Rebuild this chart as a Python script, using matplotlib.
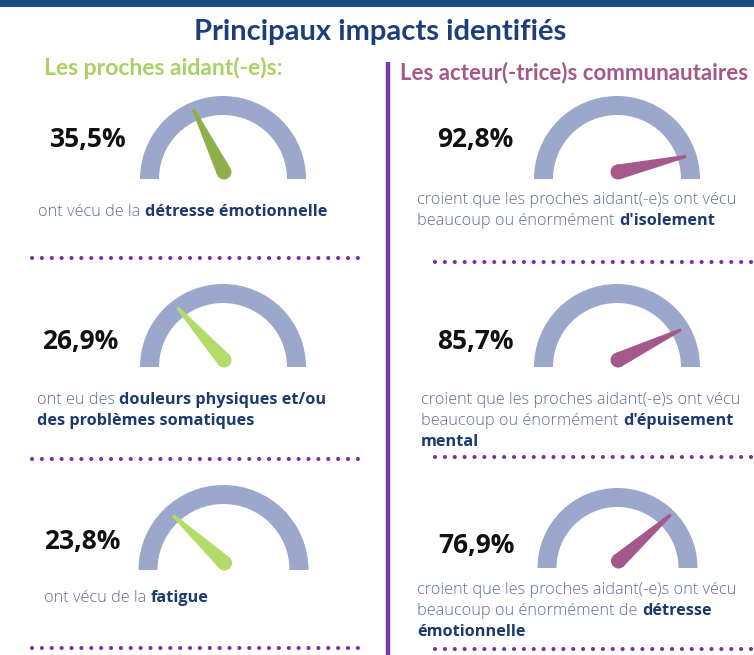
import numpy as np
import matplotlib
matplotlib.use("Agg")
import matplotlib.pyplot as plt
from matplotlib.patches import Wedge, Circle, Polygon, Rectangle

W, H = 754, 655

title = "Principaux impacts identifiés"
left_header = "Les proches aidant(-e)s:"
right_header = "Les acteur(-trice)s communautaires"

left_pct = [35.5, 26.9, 23.8]
right_pct = [92.8, 85.7, 76.9]

left_desc = [
    [[("ont vécu de la", False), ("détresse émotionnelle", True)]],
    [[("ont eu des", False), ("douleurs physiques et/ou", True)],
     [("des problèmes somatiques", True)]],
    [[("ont vécu de la", False), ("fatigue", True)]],
]
right_desc = [
    [[("croient que les proches aidant(-e)s ont vécu", False)],
     [("beaucoup ou énormément", False), ("d'isolement", True)]],
    [[("croient que les proches aidant(-e)s ont vécu", False)],
     [("beaucoup ou énormément", False), ("d'épuisement", True)],
     [("mental", True)]],
    [[("croient que les proches aidant(-e)s ont vécu", False)],
     [("beaucoup ou énormément de", False), ("détresse", True)],
     [("émotionnelle", True)]],
]

# colours
NAVY = "#1c3f7a"
BAND = "#9ba8cc"
GREEN_HEAD = "#a9d163"
PURPLE_HEAD = "#a3578a"
DOTS = "#7b2fa3"
TXT = "#5f6f92"
BOLD = "#1c3a6e"
left_needle = ["#8db04c", "#b4da68", "#b4da68"]
right_needle = ["#a5598b", "#a5598b", "#a5598b"]

plt.rcParams['lines.scale_dashes'] = False

fig = plt.figure(figsize=(W / 100, H / 100), dpi=100)
ax = fig.add_axes([0, 0, 1, 1])
ax.set_xlim(0, W)
ax.set_ylim(0, H)
ax.axis("off")


def Y(py):
    return H - py


def gauge(cx, cy, r, pct, color):
    ax.add_patch(Wedge((cx, Y(cy)), r, 0, 180, width=19, color=BAND, lw=0))
    a = np.radians(180 * (1 - pct / 100))
    px, py = cx + 1, Y(cy) + 7
    u = np.array([np.cos(a), np.sin(a)])
    n = np.array([-u[1], u[0]])
    p = np.array([px, py])
    tip = p + u * 70
    rb = 7.5
    pts = [p + n * rb, tip + n * 1.5, tip - n * 1.5, p - n * rb]
    ax.add_patch(Polygon(pts, closed=True, color=color, lw=0))
    ax.add_patch(Circle((px, py), rb, color=color, lw=0))


def rich_line(x, y, segs, size=11.7):
    prev = None
    for txt, bold in segs:
        kw = dict(fontsize=size, family="Open Sans",
                  weight="bold" if bold else "light",
                  color=BOLD if bold else TXT, va="center", ha="left")
        if prev is None:
            prev = ax.text(x, Y(y), txt, **kw)
        else:
            prev = ax.annotate(txt, xy=(1, 0.5), xycoords=prev,
                               xytext=(3.2, 0), textcoords="offset points", **kw)


def dotted(x0, x1, y):
    ax.plot([x0, x1], [Y(y), Y(y)], color=DOTS, lw=3.0,
            linestyle=(0, (0.01, 7.1)), dash_capstyle="round")


# banner and title
ax.add_patch(Rectangle((0, Y(7)), W, 7, color="#1b4a85", lw=0))
ax.text(380, Y(32), title, fontsize=21, family="Lato", weight="bold",
        color=NAVY, ha="center", va="center")
ax.text(44, Y(68), left_header, fontsize=16.5, family="Lato", weight="bold",
        color=GREEN_HEAD, ha="left", va="center")
ax.text(400, Y(73), right_header, fontsize=16, family="Lato", weight="bold",
        color=PURPLE_HEAD, ha="left", va="center")

# vertical separator
ax.plot([388, 388], [Y(62), Y(655)], color="#7b3aa2", lw=3.2,
        solid_capstyle="butt")

# left column
l_gauge = [(223, 179, 83), (223, 367, 83), (223.5, 570, 85)]
l_pct_xy = [(50, 140), (42, 342), (44, 541)]
l_desc_xy = [(38, 212), (37, 400), (44, 598)]
l_dots = [258, 459, 648]
for i, v in enumerate(left_pct):
    cx, cy, r = l_gauge[i]
    gauge(cx, cy, r, v, left_needle[i])
    x, y = l_pct_xy[i]
    ax.text(x, Y(y), f"{v:.1f}%".replace(".", ","), fontsize=19,
            family="Open Sans", weight="bold", color="#111111",
            ha="left", va="center")
    x, y = l_desc_xy[i]
    for k, line in enumerate(left_desc[i]):
        rich_line(x, y + 21 * k, line)
    dotted(32, 358, l_dots[i])

# right column
r_gauge = [(617, 179, 83), (617, 367, 83), (617.5, 568, 80)]
r_pct_xy = [(437, 140), (437, 342), (438, 546)]
r_desc_xy = [(417, 200), (421, 400), (417, 590)]
r_dots = [262, 457, 649]
for i, v in enumerate(right_pct):
    cx, cy, r = r_gauge[i]
    gauge(cx, cy, r, v, right_needle[i])
    x, y = r_pct_xy[i]
    ax.text(x, Y(y), f"{v:.1f}%".replace(".", ","), fontsize=19,
            family="Open Sans", weight="bold", color="#111111",
            ha="left", va="center")
    x, y = r_desc_xy[i]
    for k, line in enumerate(right_desc[i]):
        rich_line(x, y + 21 * k, line)
    dotted(435, 760, r_dots[i])

fig.savefig("out.png", dpi=100)
